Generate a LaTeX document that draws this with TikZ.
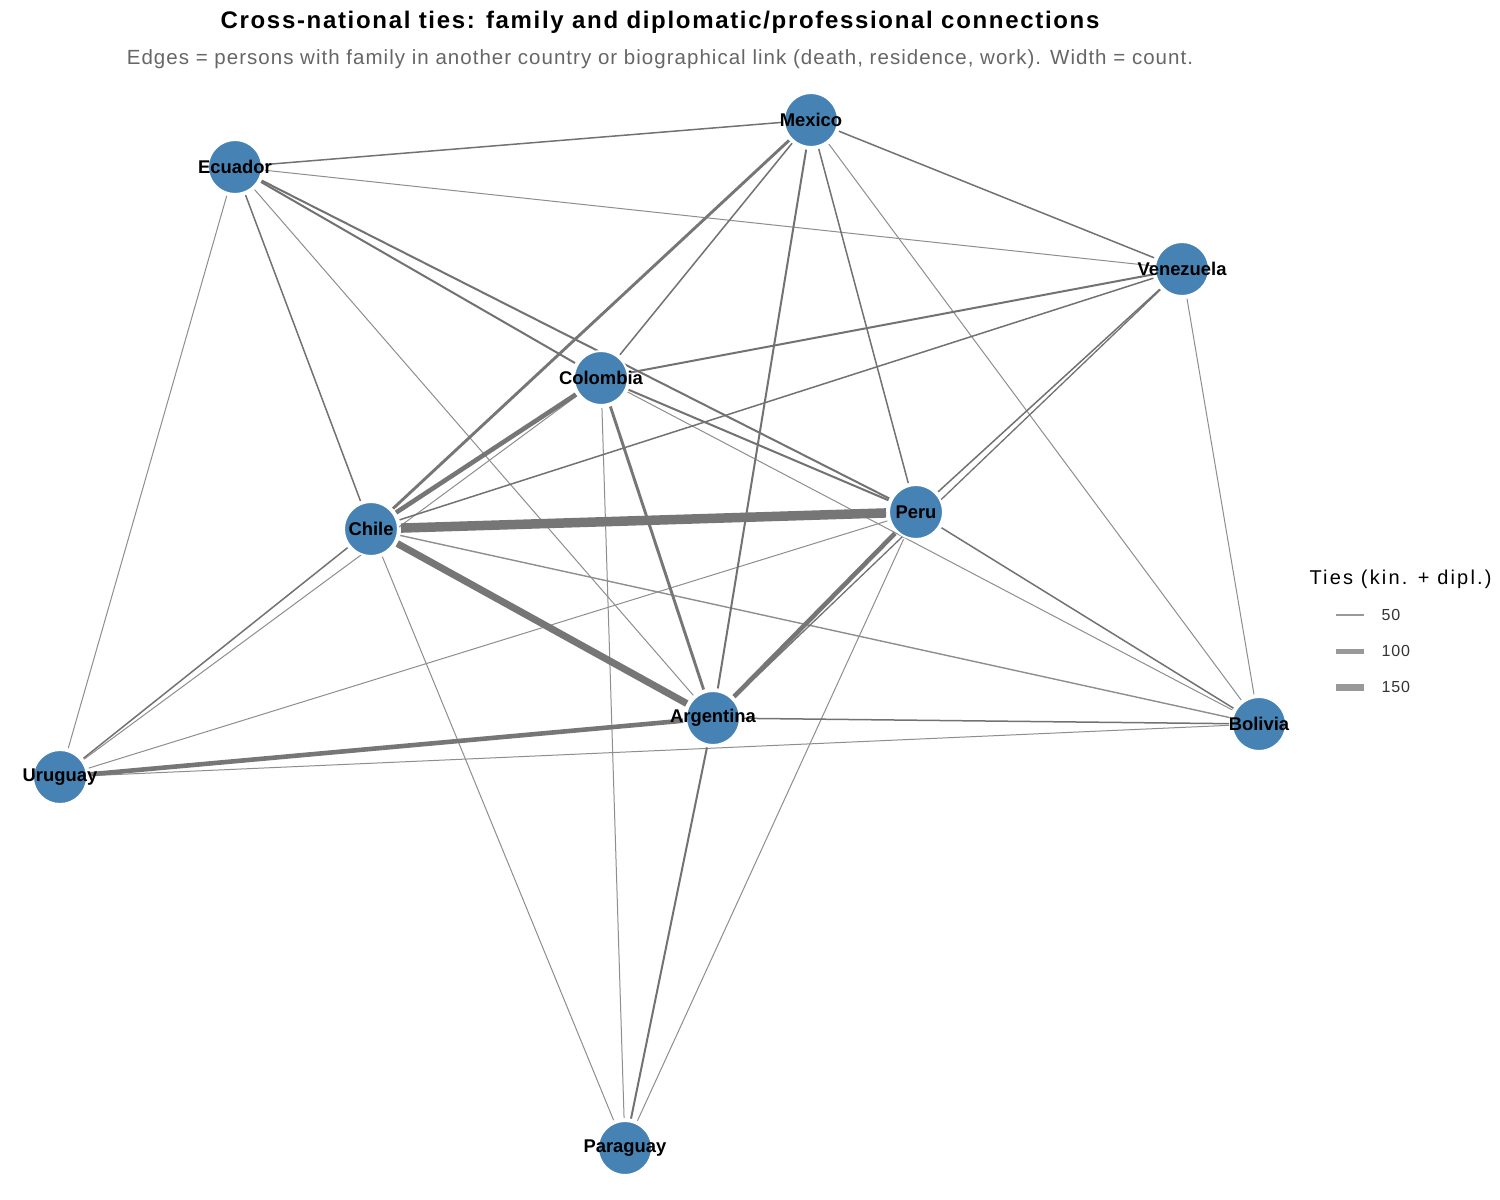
\documentclass[tikz,border=0pt]{standalone}
\usepackage{fontspec}
\setmainfont{Liberation Sans}
\newfontfamily\ttlfont[LetterSpace=7]{Liberation Sans}
\newfontfamily\subfont[LetterSpace=5]{Liberation Sans}
\newfontfamily\legtfont[LetterSpace=11]{Liberation Sans}
\newfontfamily\legnfont[LetterSpace=6]{Liberation Sans}
\definecolor{steel}{HTML}{4682B4}
\definecolor{ethin}{HTML}{8E8E8E}
\definecolor{emed}{HTML}{727272}
\definecolor{ethick}{HTML}{767676}
\definecolor{subgray}{HTML}{666666}
\definecolor{leggray}{HTML}{999999}
\pgfdeclarelayer{paper}
\pgfdeclarelayer{bg}
\pgfsetlayers{paper,bg,main}
\tikzset{
  country/.style={circle, fill=steel, draw=white, line width=2pt, minimum size=54pt, inner sep=0pt},
  clabel/.style={font=\bfseries\fontsize{18.4}{20}\selectfont, inner sep=0pt, text=black},
  edge/.style={shorten <=2pt, shorten >=2pt, line cap=butt},
  ea/.style={edge, draw=ethin, line width=1pt},
  eb/.style={edge, draw=emed, line width=1.5pt},
  ec/.style={edge, draw=emed, line width=2pt},
  ed/.style={edge, draw=ethick, line width=2.9pt},
  ee/.style={edge, draw=ethick, line width=4.6pt},
  ef/.style={edge, draw=ethick, line width=7pt},
  eg/.style={edge, draw=ethick, line width=9.5pt},
  legline/.style={draw=leggray, line cap=butt},
}
\begin{document}
\begin{tikzpicture}[x=1pt,y=-1pt]
\useasboundingbox (0,0) rectangle (1500,1200);
\begin{pgfonlayer}{paper}
\fill[white] (0,0) rectangle (1500,1200);
\end{pgfonlayer}

% titles
\node[font=\ttlfont\bfseries\fontsize{24}{26}\selectfont, anchor=base] (title) at (660,28.5) {Cross-national ties: family and diplomatic/professional connections};
\node[font=\subfont\fontsize{20.5}{23}\selectfont, text=subgray, anchor=base] (subtitle) at (660,64) {Edges = persons with family in another country or biographical link (death, residence, work). Width = count.};

% nodes
\node[country] (mx) at (811,120) {};
\node[country] (ec) at (235,167) {};
\node[country] (ve) at (1182,269) {};
\node[country] (co) at (601,378) {};
\node[country] (pe) at (916,512) {};
\node[country] (cl) at (371,529) {};
\node[country] (ar) at (713,718) {};
\node[country] (bo) at (1259,724) {};
\node[country] (uy) at (60,777) {};
\node[country] (py) at (625,1148) {};

\node[clabel] (mxl) at (mx) {Mexico};
\node[clabel] (ecl) at (ec) {Ecuador};
\node[clabel] (vel) at (ve) {Venezuela};
\node[clabel] (col) at (co) {Colombia};
\node[clabel] (pel) at (pe) {Peru};
\node[clabel] (cll) at (cl) {Chile};
\node[clabel] (arl) at (ar) {Argentina};
\node[clabel] (bol) at (bo) {Bolivia};
\node[clabel] (uyl) at (uy) {Uruguay};
\node[clabel] (pyl) at (py) {Paraguay};

\begin{pgfonlayer}{bg}
% thin edges
\draw[ea] (mx) -- (bo);
\draw[ea] (ec) -- (ve);
\draw[ea] (ec) -- (ar);
\draw[ea] (ec) -- (uy);
\draw[ea] (ve) -- (bo);
\draw[ea] (co) -- (py);
\draw[ea] (co) -- (bo);
\draw[ea] (co) -- (uy);
\draw[ea] (pe) -- (uy);
\draw[ea] (pe) -- (py);
\draw[ea] (cl) -- (py);
\draw[ea] (bo) -- (uy);
\draw[ea, line width=1.4pt] (cl) -- (bo);
% medium edges
\draw[eb] (mx) -- (ec);
\draw[eb] (mx) -- (ve);
\draw[eb] (mx) -- (co);
\draw[eb] (mx) -- (pe);
\draw[eb] (ec) -- (cl);
\draw[eb] (ve) -- (cl);
\draw[eb] (ve) -- (pe);
\draw[eb, line width=1.3pt] (ve) -- (ar);
\draw[eb] (pe) -- (bo);
\draw[eb] (ar) -- (bo);
\draw[eb] (cl) -- (uy);
% heavier edges
\draw[ec] (mx) -- (ar);
\draw[ec] (ec) -- (co);
\draw[ec] (ec) -- (pe);
\draw[ec] (ve) -- (co);
\draw[ec] (co) -- (pe);
\draw[ec] (ar) -- (py);
\draw[ed] (co) -- (ar);
\draw[ed] (mx) -- (cl);
\draw[ee] (pe) -- (ar);
\draw[ee] (cl) -- (co);
\draw[ee] (ar) -- (uy);
\draw[ef] (cl) -- (ar);
\draw[eg] (cl) -- (pe);
\end{pgfonlayer}

% legend
\node[font=\legtfont\fontsize{20}{22}\selectfont, anchor=base west] (legtitle) at (1306,584) {Ties (kin. + dipl.)};
\coordinate (la1) at (1336,615); \coordinate (lb1) at (1364,615);
\coordinate (la2) at (1336,651); \coordinate (lb2) at (1364,651);
\coordinate (la3) at (1336,687); \coordinate (lb3) at (1364,687);
\draw[legline, line width=2.8pt] (la1) -- (lb1);
\draw[legline, line width=5pt] (la2) -- (lb2);
\draw[legline, line width=7pt] (la3) -- (lb3);
\node[font=\legnfont\fontsize{16}{18}\selectfont, anchor=west, text=black!80] (leg1) at (1378,615) {50};
\node[font=\legnfont\fontsize{16}{18}\selectfont, anchor=west, text=black!80] (leg2) at (1378,651) {100};
\node[font=\legnfont\fontsize{16}{18}\selectfont, anchor=west, text=black!80] (leg3) at (1378,687) {150};
\end{tikzpicture}
\end{document}
